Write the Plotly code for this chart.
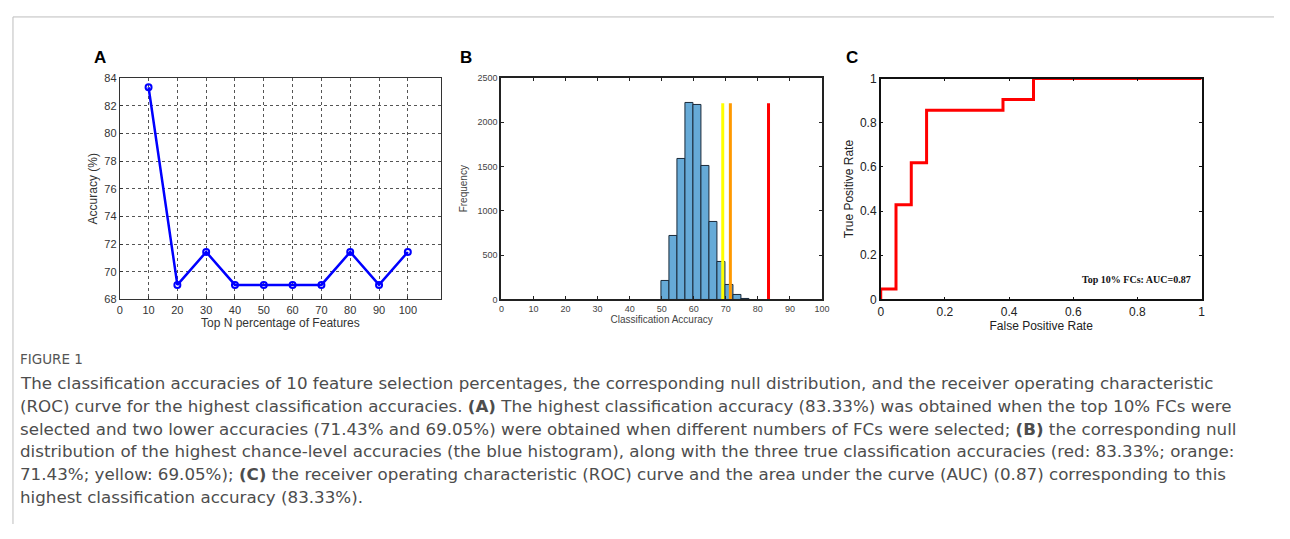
import plotly.graph_objects as go

# Page body adds an 8px margin, so the figure is made 16px smaller and
# reference pixel positions are shifted by 8px.
OFF = 8
W, H = 1290 - 2 * OFF, 539 - 2 * OFF

# ---------------- data ----------------
# Panel A
feature_pct = [10, 20, 30, 40, 50, 60, 70, 80, 90, 100]
accuracy = [83.33, 69.05, 71.43, 69.05, 69.05, 69.05, 69.05, 71.43, 69.05, 71.43]

# Panel B (null distribution histogram)
bin_left_edges = [50, 52.5, 55, 57.5, 60, 62.5, 65, 67.5, 70, 72.5, 75]
bin_counts = [212, 717, 1581, 2218, 2196, 1504, 878, 420, 168, 56, 5]
bin_width = 2.5
true_acc = [69.05, 71.43, 83.33]
true_acc_names = ["yellow", "orange", "red"]
true_acc_colors = ["#ffff00", "#ff9900", "#ff0000"]
line_top = 2215

# Panel C (ROC)
fpr = [0, 0, 0.0476, 0.0476, 0.0952, 0.0952, 0.1429, 0.1429, 0.381, 0.381, 0.476, 0.476, 1.0]
tpr = [0, 0.0476, 0.0476, 0.4286, 0.4286, 0.619, 0.619, 0.857, 0.857, 0.905, 0.905, 1.0, 1.0]

caption_lines = [
    "The classification accuracies of 10 feature selection percentages, the corresponding null distribution, and the receiver operating characteristic",
    "(ROC) curve for the highest classification accuracies. <b>(A)</b> The highest classification accuracy (83.33%) was obtained when the top 10% FCs were",
    "selected and two lower accuracies (71.43% and 69.05%) were obtained when different numbers of FCs were selected; <b>(B)</b> the corresponding null",
    "distribution of the highest chance-level accuracies (the blue histogram), along with the three true classification accuracies (red: 83.33%; orange:",
    "71.43%; yellow: 69.05%); <b>(C)</b> the receiver operating characteristic (ROC) curve and the area under the curve (AUC) (0.87) corresponding to this",
    "highest classification accuracy (83.33%).",
]


def px(x):
    return (x - OFF) / W


def py(y):
    return 1 - (y - OFF) / H


fig = go.Figure()

# ---- Panel A ----
fig.add_trace(go.Scatter(
    x=feature_pct, y=accuracy, mode="lines+markers",
    line=dict(color="#0000ff", width=2.5),
    marker=dict(symbol="circle-open", size=6, color="#0000ff", line=dict(width=2)),
    xaxis="x", yaxis="y", showlegend=False,
))

# ---- Panel B ----
bin_centers = [e + bin_width / 2 for e in bin_left_edges]
fig.add_trace(go.Bar(
    x=bin_centers, y=bin_counts, width=bin_width,
    marker=dict(color="#66aad7", line=dict(color="#1a2a3a", width=1)),
    xaxis="x2", yaxis="y2", showlegend=False,
))
for v, c in zip(true_acc, true_acc_colors):
    fig.add_trace(go.Scatter(
        x=[v, v], y=[0, line_top], mode="lines",
        line=dict(color=c, width=3),
        xaxis="x2", yaxis="y2", showlegend=False,
    ))

# ---- Panel C ----
fig.add_trace(go.Scatter(
    x=fpr, y=tpr, mode="lines",
    line=dict(color="#ff0000", width=3),
    xaxis="x3", yaxis="y3", showlegend=False,
))

tickc = "#333333"
yA = [py(300.3), py(72.7)]
fig.update_layout(
    width=W, height=H,
    margin=dict(l=0, r=0, t=0, b=0),
    paper_bgcolor="white", plot_bgcolor="white",
    bargap=0,
    xaxis=dict(
        domain=[px(117.7), px(441.7)], range=[0, 111.5],
        tickvals=[0, 10, 20, 30, 40, 50, 60, 70, 80, 90, 100],
        ticks="inside", ticklen=3, tickcolor="#333",
        showgrid=True, gridcolor="#555", griddash="dot", gridwidth=1,
        showline=True, linecolor="#333", linewidth=1, mirror=True,
        zeroline=False,
        tickfont=dict(family="Arial", size=11, color=tickc),
        title=dict(text="Top N percentage of Features", font=dict(family="Arial", size=12, color=tickc), standoff=1),
        anchor="y",
    ),
    yaxis=dict(
        domain=yA, range=[68, 84],
        tickvals=[68, 70, 72, 74, 76, 78, 80, 82, 84],
        ticks="inside", ticklen=3, tickcolor="#333",
        showgrid=True, gridcolor="#555", griddash="dot", gridwidth=1,
        showline=True, linecolor="#333", linewidth=1, mirror=True,
        zeroline=False,
        tickfont=dict(family="Arial", size=11, color=tickc),
        title=dict(text="Accuracy (%)", font=dict(family="Arial", size=12, color=tickc), standoff=4),
        anchor="x",
    ),
    xaxis2=dict(
        domain=[px(502.7), px(826)], range=[0, 100],
        tickvals=[0, 10, 20, 30, 40, 50, 60, 70, 80, 90, 100],
        ticks="inside", ticklen=3, tickcolor="#222",
        showgrid=False, zeroline=False,
        showline=True, linecolor="#222", linewidth=2, mirror="ticks",
        tickfont=dict(family="Arial", size=9, color="#444"),
        title=dict(text="Classification Accuracy", font=dict(family="Arial", size=10, color="#444"), standoff=3),
        anchor="y2",
    ),
    yaxis2=dict(
        domain=yA, range=[0, 2500],
        tickvals=[0, 500, 1000, 1500, 2000, 2500],
        ticks="inside", ticklen=3, tickcolor="#222",
        showgrid=False, zeroline=False,
        showline=True, linecolor="#222", linewidth=2, mirror="ticks",
        tickfont=dict(family="Arial", size=9, color="#444"),
        title=dict(text="Frequency", font=dict(family="Arial", size=10, color="#444"), standoff=8),
        anchor="x2",
    ),
    xaxis3=dict(
        domain=[px(885.3), px(1209)], range=[0, 1],
        tickvals=[0, 0.2, 0.4, 0.6, 0.8, 1],
        ticktext=["0", "0.2", "0.4", "0.6", "0.8", "1"],
        ticks="inside", ticklen=3, tickcolor="#111",
        showgrid=False, zeroline=False,
        showline=True, linecolor="#111", linewidth=1.5, mirror="ticks",
        tickfont=dict(family="Arial", size=12, color="#222"),
        title=dict(text="False Positive Rate", font=dict(family="Arial", size=12, color="#222"), standoff=0),
        anchor="y3",
    ),
    yaxis3=dict(
        domain=[py(300.3), py(73.3)], range=[0, 1],
        tickvals=[0, 0.2, 0.4, 0.6, 0.8, 1],
        ticktext=["0", "0.2", "0.4", "0.6", "0.8", "1"],
        ticks="inside", ticklen=3, tickcolor="#111",
        showgrid=False, zeroline=False,
        showline=True, linecolor="#111", linewidth=1.5, mirror="ticks",
        tickfont=dict(family="Arial", size=12, color="#222"),
        title=dict(text="True Positive Rate", font=dict(family="Arial", size=12, color="#222"), standoff=4),
        anchor="x3",
    ),
)

annotations = []
for lab, x in [("A", 98), ("B", 467), ("C", 856)]:
    annotations.append(dict(
        text=f"<b>{lab}</b>", x=px(x), y=py(52), xref="paper", yref="paper",
        xanchor="center", yanchor="middle", showarrow=False,
        font=dict(family="Arial", size=17, color="#000"),
    ))

annotations.append(dict(
    text="<b>Top 10% FCs: AUC=0.87</b>", x=px(1200), y=py(280), xref="paper", yref="paper",
    xanchor="right", yanchor="middle", showarrow=False,
    font=dict(family="Liberation Serif", size=10, color="#111"),
))

annotations.append(dict(
    text="FIGURE 1", x=px(15), y=py(361), xref="paper", yref="paper",
    xanchor="left", yanchor="middle", showarrow=False,
    font=dict(family="DejaVu Sans", size=13.5, color="#555"),
))
for i, line in enumerate(caption_lines):
    annotations.append(dict(
        text=line, x=px(15), y=py(386 + 23.5 * i), xref="paper", yref="paper",
        xanchor="left", yanchor="middle", showarrow=False,
        font=dict(family="DejaVu Sans", size=16.7, color="#4d4d4d"),
    ))
fig.update_layout(annotations=annotations)

fig.update_layout(shapes=[
    dict(type="line", xref="paper", yref="paper", x0=px(10), x1=1, y0=py(10), y1=py(10),
         line=dict(color="#bdbdbd", width=1)),
    dict(type="line", xref="paper", yref="paper", x0=px(10), x1=px(10), y0=py(10), y1=0,
         line=dict(color="#bdbdbd", width=1)),
])

fig.write_html("out.html")
